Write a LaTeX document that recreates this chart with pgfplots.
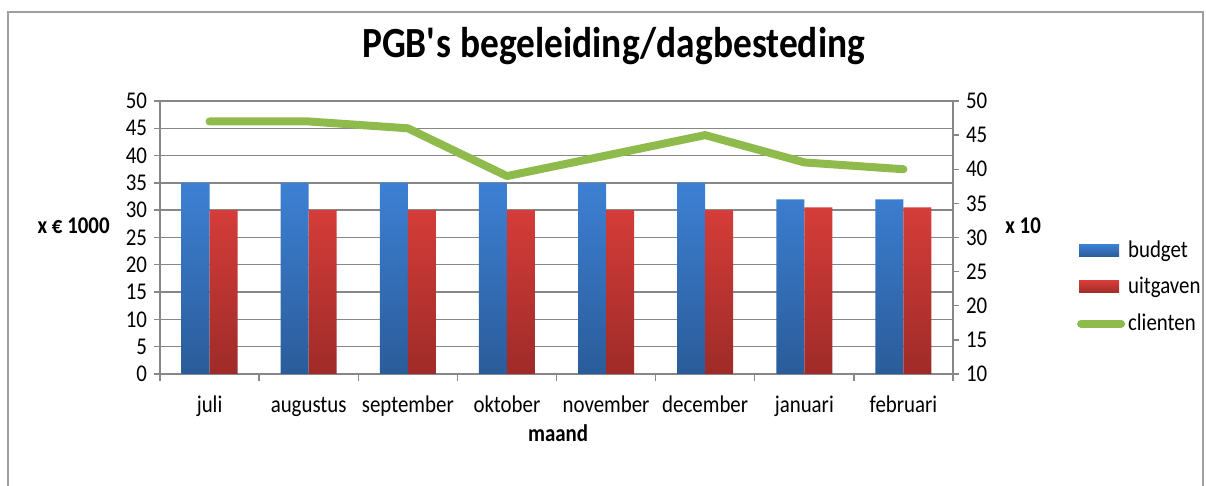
\documentclass[border=0pt]{standalone}
\usepackage{fontspec}
\setmainfont{Carlito}[FakeStretch=0.87]
\usepackage{pgfplots}
\pgfplotsset{compat=1.18}
\definecolor{blueT}{HTML}{3D80D3}
\definecolor{blueB}{HTML}{2A5C9A}
\definecolor{redT}{HTML}{D53D39}
\definecolor{redB}{HTML}{9E2B28}
\definecolor{grn}{HTML}{8FBA4C}
\definecolor{axgray}{HTML}{878787}
\begin{document}
\begin{tikzpicture}[x=1pt,y=1pt]
\useasboundingbox (-80,-56) rectangle (523,187);
\draw[axgray!80, line width=0.9pt] (-76,-70) -- (-76,181) -- (521.5,181) -- (521.5,-70);
\begin{axis}[
  at={(0,0)}, anchor=south west,
  scale only axis, width=396.5pt, height=136.5pt,
  xmin=-0.5, xmax=7.5, ymin=0, ymax=50,
  ytick={0,5,...,50},
  ymajorgrids, grid style={axgray, line width=0.7pt},
  axis x line*=bottom, axis y line*=left,
  axis line style={axgray, line width=0.7pt},
  every tick/.style={axgray, line width=0.7pt},
  tick align=outside,
  major tick length=3pt, minor tick length=3.5pt,
  xtick={0,...,7},
  xticklabels={juli,augustus,september,oktober,november,december,januari,februari},
  major x tick style={draw=none},
  minor xtick={-0.5,0.5,...,7.5},
  ticklabel style={font=\fontsize{12}{14}\selectfont, text=black},
  xticklabel style={anchor=base, yshift=-16.5pt},
  /pgf/number format/assume math mode=true,
  ybar=0pt, bar width=14pt,
  title={PGB\textquotesingle s begeleiding/dagbesteding},
  title style={font=\fontsize{21.5}{24}\selectfont\bfseries, at={(rel axis cs:0.572,1.1136)}, anchor=base},
  clip=false,
]
\addplot[draw=none, top color=blueT, bottom color=blueB] coordinates {(0,35) (1,35) (2,35) (3,35) (4,35) (5,35) (6,32) (7,32)};
\addplot[draw=none, top color=redT, bottom color=redB] coordinates {(0,30) (1,30) (2,30) (3,30) (4,30) (5,30) (6,30.5) (7,30.5)};
\node[font=\fontsize{12}{14}\selectfont\bfseries, anchor=east, inner sep=0pt] at (rel axis cs:-0.063,0.542) {x € 1000};
\node[font=\fontsize{12}{14}\selectfont\bfseries, anchor=west, inner sep=0pt] at (rel axis cs:1.0656,0.542) {x 10};
\node[font=\fontsize{12}{14}\selectfont\bfseries] at (rel axis cs:0.502,-0.216) {maand};
\end{axis}
\begin{axis}[
  at={(0,0)}, anchor=south west,
  scale only axis, width=396.5pt, height=136.5pt,
  xmin=-0.5, xmax=7.5, ymin=10, ymax=50,
  ytick={10,15,...,50},
  axis x line=none, axis y line*=right,
  axis line style={axgray, line width=0.7pt},
  every tick/.style={axgray, line width=0.7pt},
  tick align=outside, major tick length=3pt,
  ticklabel style={font=\fontsize{12}{14}\selectfont, text=black},
  /pgf/number format/assume math mode=true,
  legend style={at={(rel axis cs:1.156,0.505)}, anchor=north west, draw=none, fill=none,
    font=\fontsize{12}{14}\selectfont, row sep=4.5pt, inner sep=0pt, nodes={inner xsep=1.5pt}},
  legend cell align=left,
]
\addlegendimage{draw=none, fill=blueT, legend image code/.code={\fill[top color=blueT, bottom color=blueB] (0pt,-3pt) rectangle (20pt,3pt);}}
\addlegendentry{budget}
\addlegendimage{draw=none, fill=redT, legend image code/.code={\fill[top color=redT, bottom color=redB] (0pt,-3pt) rectangle (20pt,3pt);}}
\addlegendentry{uitgaven}
\addplot[grn, line width=4pt, line cap=round, line join=round, mark=none,
  legend image code/.code={\draw[grn, line width=4pt, line cap=round] (1pt,0pt) -- (21pt,0pt);}]
  coordinates {(0,47) (1,47) (2,46) (3,39) (4,42) (5,45) (6,41) (7,40)};
\addlegendentry{clienten}
\end{axis}
\end{tikzpicture}
\end{document}
